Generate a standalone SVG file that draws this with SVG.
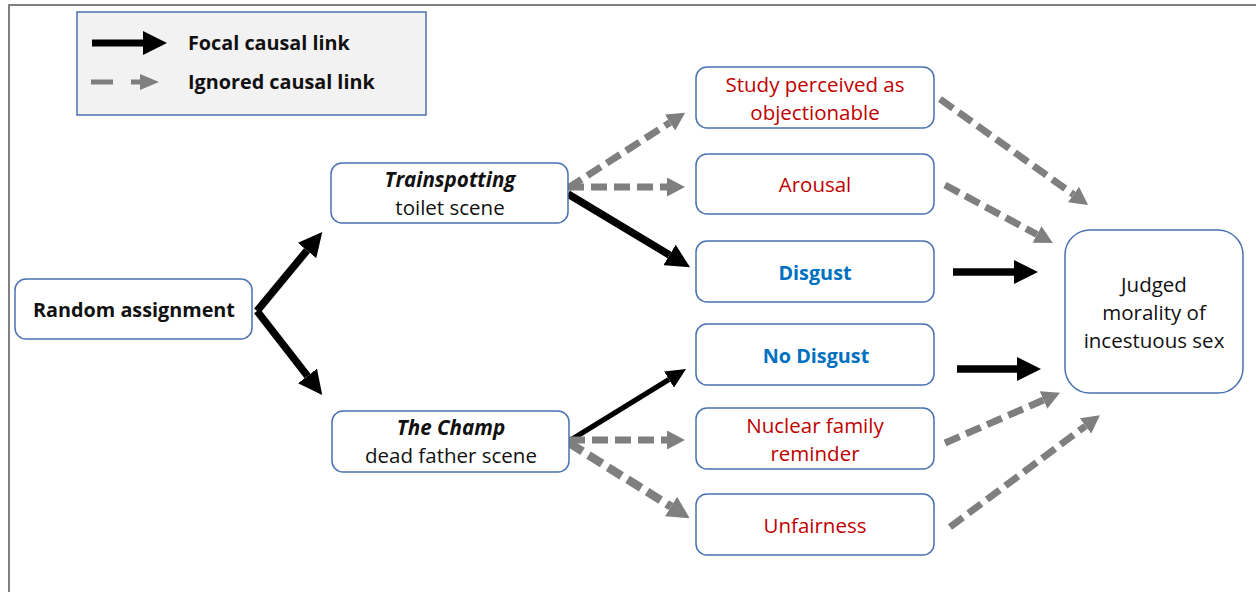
<svg xmlns="http://www.w3.org/2000/svg" width="1257" height="592" viewBox="0 0 1257 592">
<style>
.box{fill:#ffffff;stroke:#4a72b0;stroke-width:1.5}
.legend{fill:#f2f2f2;stroke:#4a72b0;stroke-width:1.5}
text{font-family:"Open Sans","Noto Sans","Liberation Sans",sans-serif;font-size:20.5px;text-anchor:middle}
.k{fill:#111111}
.r{fill:#c00000}
.b{fill:#0070c0;font-weight:bold;font-size:19.8px}
.bold{font-weight:bold;font-size:19.8px}
.bi{font-weight:bold;font-style:italic;font-size:20.6px}
.focal{stroke:#000000;stroke-width:7.5;fill:none}
.thin{stroke:#000000;stroke-width:5;fill:none}
.ign{stroke:#7f7f7f;stroke-width:7;stroke-dasharray:16 7;fill:none}
</style>
<defs>
<marker id="hb" markerUnits="userSpaceOnUse" viewBox="0 0 10 10" refX="0" refY="5" markerWidth="24" markerHeight="24" orient="auto"><path d="M0,0 L10,5 L0,10 z" fill="#000000"/></marker>
<marker id="hs" markerUnits="userSpaceOnUse" viewBox="0 0 10 10" refX="0" refY="5" markerWidth="20" markerHeight="19" orient="auto" preserveAspectRatio="none"><path d="M0,0 L10,5 L0,10 z" fill="#000000"/></marker>
<marker id="hg" markerUnits="userSpaceOnUse" viewBox="0 0 10 10" refX="0" refY="5" markerWidth="18" markerHeight="19" orient="auto" preserveAspectRatio="none"><path d="M0,0 L10,5 L0,10 z" fill="#7f7f7f"/></marker>
<marker id="hgb" markerUnits="userSpaceOnUse" viewBox="0 0 10 10" refX="0" refY="5" markerWidth="22" markerHeight="23" orient="auto" preserveAspectRatio="none"><path d="M0,0 L10,5 L0,10 z" fill="#7f7f7f"/></marker>
</defs>
<rect x="0" y="0" width="1257" height="592" fill="#ffffff"/>
<path d="M9,592 L9,5 L1256,5" fill="none" stroke="#808080" stroke-width="2"/>

<g id="legend">
<rect class="legend" x="77" y="12" width="349" height="103"/>
<line x1="92" y1="43" x2="144" y2="43" stroke="#000000" stroke-width="7"/>
<path d="M143,31 L167,43 L143,55 z" fill="#000000"/>
<line x1="91" y1="82" x2="113" y2="82" stroke="#7f7f7f" stroke-width="5"/>
<line x1="131" y1="82" x2="142" y2="82" stroke="#7f7f7f" stroke-width="5"/>
<path d="M140,74 L159,82 L140,90 z" fill="#7f7f7f"/>
<text class="bold k" x="188" y="50" style="text-anchor:start">Focal causal link</text>
<text class="bold k" x="188" y="89" style="text-anchor:start">Ignored causal link</text>
</g>

<g id="connectors">
<line class="focal" x1="257" y1="311" x2="307" y2="250.5" marker-end="url(#hb)"/>
<line class="focal" x1="257" y1="311" x2="307.5" y2="376" marker-end="url(#hb)"/>
<line class="focal" x1="568" y1="194" x2="669.5" y2="255" marker-end="url(#hb)"/>
<line class="ign" x1="568" y1="188" x2="670" y2="122.5" marker-end="url(#hg)"/>
<line class="ign" x1="568" y1="187" x2="667" y2="187" marker-end="url(#hg)"/>
<line class="thin" x1="569" y1="441" x2="669" y2="379.5" marker-end="url(#hs)"/>
<line class="ign" x1="569" y1="440" x2="667" y2="440" marker-end="url(#hg)"/>
<line class="ign" x1="569" y1="443" x2="671" y2="506.5" style="stroke-width:8.5" marker-end="url(#hgb)"/>
<line class="ign" x1="940" y1="99" x2="1073.5" y2="194.5" marker-end="url(#hg)"/>
<line class="ign" x1="945" y1="185" x2="1037" y2="234.5" marker-end="url(#hg)"/>
<line class="focal" x1="953" y1="272" x2="1014" y2="272" marker-end="url(#hb)"/>
<line class="focal" x1="957" y1="369" x2="1017" y2="369" marker-end="url(#hb)"/>
<line class="ign" x1="945" y1="443" x2="1043.5" y2="400" marker-end="url(#hg)"/>
<line class="ign" x1="950" y1="527" x2="1085.5" y2="426" marker-end="url(#hg)"/>
</g>

<g id="random">
<rect class="box" x="15" y="279" width="237" height="60" rx="11"/>
<text class="bold k" x="134" y="317">Random assignment</text>
</g>
<g id="trainspotting">
<rect class="box" x="331" y="163" width="237" height="60" rx="11"/>
<text class="bi k" x="450" y="187">Trainspotting</text>
<text class="k" x="450" y="215">toilet scene</text>
</g>
<g id="champ">
<rect class="box" x="332" y="411" width="237" height="61" rx="11"/>
<text class="bi k" x="451" y="435">The Champ</text>
<text class="k" x="451" y="463">dead father scene</text>
</g>
<g id="study">
<rect class="box" x="696" y="67" width="238" height="61" rx="11"/>
<text class="r" x="815" y="92">Study perceived as</text>
<text class="r" x="815" y="120">objectionable</text>
</g>
<g id="arousal">
<rect class="box" x="696" y="154" width="238" height="60" rx="11"/>
<text class="r" x="815" y="192">Arousal</text>
</g>
<g id="disgust">
<rect class="box" x="696" y="241" width="238" height="61" rx="11"/>
<text class="b" x="815" y="280">Disgust</text>
</g>
<g id="nodisgust">
<rect class="box" x="696" y="324" width="238" height="61" rx="11"/>
<text class="b" x="816" y="363">No Disgust</text>
</g>
<g id="nuclear">
<rect class="box" x="696" y="408" width="238" height="61" rx="11"/>
<text class="r" x="815" y="433">Nuclear family</text>
<text class="r" x="815" y="461">reminder</text>
</g>
<g id="unfairness">
<rect class="box" x="696" y="494" width="238" height="61" rx="11"/>
<text class="r" x="815" y="533">Unfairness</text>
</g>
<g id="judged">
<rect class="box" x="1065" y="230" width="178" height="163" rx="25"/>
<text class="k" x="1154" y="292">Judged</text>
<text class="k" x="1154" y="320">morality of</text>
<text class="k" x="1154" y="348">incestuous sex</text>
</g>
</svg>
